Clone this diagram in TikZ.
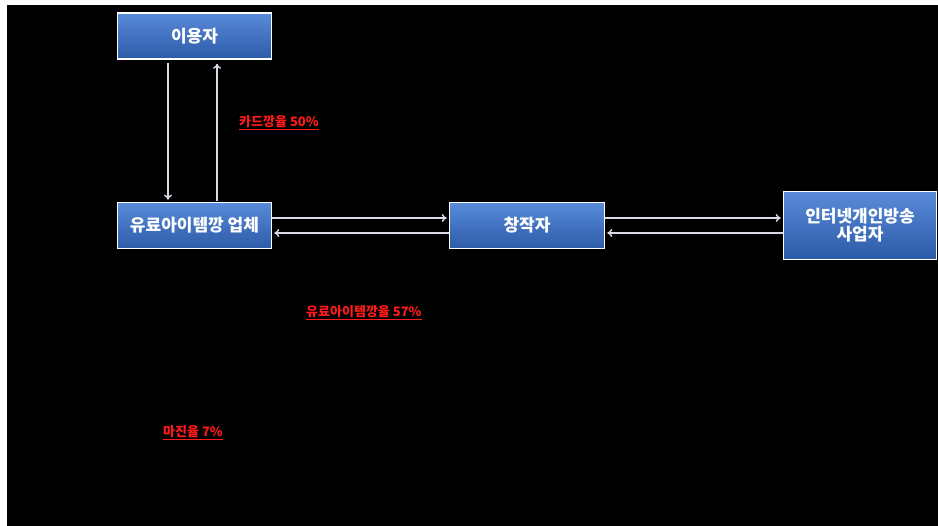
\documentclass[tikz,border=0pt]{standalone}
\usepackage{fontspec}
\newfontfamily\kr{Noto Sans CJK KR}
\usetikzlibrary{arrows.meta}
\definecolor{boxtop}{HTML}{5A8BD8}
\definecolor{boxbot}{HTML}{2C5BA8}
\definecolor{arrcol}{HTML}{D8DCE6}
\definecolor{lblred}{HTML}{FF1A1A}
\tikzset{
  box/.style={draw=white, line width=1.6pt, top color=boxtop, bottom color=boxbot,
    text=white, font=\kr\bfseries\fontsize{17}{20}\selectfont, align=center,
    inner sep=0pt, minimum width=154pt},
  arr/.style={draw=arrcol, line width=1.4pt, -{To[length=5pt,width=8pt]}},
  lbl/.style={text=lblred, font=\kr\bfseries\fontsize{13}{15}\selectfont, inner sep=0pt, anchor=west},
  uline/.style={draw=lblred, line width=1.3pt}
}
\begin{document}
\begin{tikzpicture}[x=1pt,y=1pt]
\fill[white] (0,0) rectangle (938,-526);
\fill[black] (7,-5) rectangle (938,-526);
\useasboundingbox (0,0) rectangle (938,-526);

\node[box, minimum height=46pt] (user) at (194.5,-36) {이용자};
\node[box, minimum height=46pt] (vendor) at (194.5,-225.5) {유료아이템깡 업체};
\node[box, minimum height=46pt, minimum width=155pt] (creator) at (527,-225.5) {창작자};
\node[box, minimum height=68pt, minimum width=153pt] (bcast) at (860,-225.5) {인터넷개인방송\\[-2pt]사업자};

\draw[arr, shorten <=3pt, shorten >=2pt] ([xshift=-26.5pt]user.south) -- ([xshift=-26.5pt]vendor.north);
\draw[arr, shorten <=1pt, shorten >=4pt] ([xshift=22.5pt]vendor.north) -- ([xshift=22.5pt]user.south);

\draw[arr, shorten >=2pt] ([yshift=7.5pt]vendor.east) -- ([yshift=7.5pt]creator.west);
\draw[arr, shorten >=2pt] ([yshift=-7.5pt]creator.west) -- ([yshift=-7.5pt]vendor.east);
\draw[arr, shorten >=2pt] ([yshift=7.5pt]creator.east) -- ([yshift=7.5pt]bcast.west);
\draw[arr, shorten >=2pt] ([yshift=-7.5pt]bcast.west) -- ([yshift=-7.5pt]creator.east);

\node[lbl] (l1) at (239,-122) {카드깡율 50\%};
\node[lbl] (l2) at (306,-312) {유료아이템깡율 57\%};
\node[lbl] (l3) at (163,-432) {마진율 7\%};
\foreach \n in {l1,l2,l3}
  \draw[uline] ([yshift=-1.2pt]\n.south west) -- ([yshift=-1.2pt]\n.south east);
\end{tikzpicture}
\end{document}
